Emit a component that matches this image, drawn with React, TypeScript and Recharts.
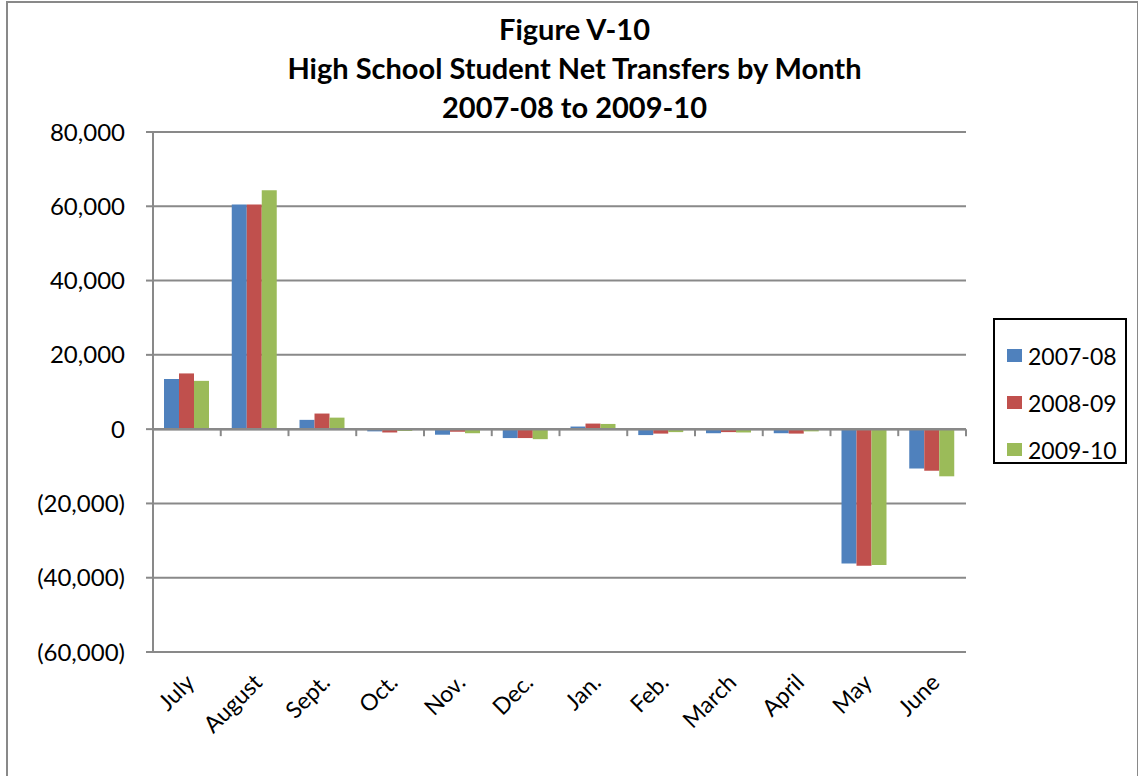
import {
  BarChart,
  Bar,
  XAxis,
  YAxis,
  CartesianGrid,
  Legend,
  ReferenceLine,
} from 'recharts'

const months = ['July', 'August', 'Sept.', 'Oct.', 'Nov.', 'Dec.', 'Jan.', 'Feb.', 'March', 'April', 'May', 'June']
const y2007 = [13500, 60500, 2500, -600, -1500, -2400, 700, -1600, -1100, -1100, -36200, -10600]
const y2008 = [15000, 60500, 4200, -900, -700, -2400, 1500, -1200, -800, -1200, -36800, -11200]
const y2009 = [13000, 64300, 3100, -500, -1100, -2700, 1400, -800, -900, -600, -36600, -12700]
const yTicks = [-60000, -40000, -20000, 0, 20000, 40000, 60000, 80000]

const SERIES = [
  { key: 'a', name: '2007-08', color: '#4F81BD' },
  { key: 'b', name: '2008-09', color: '#C0504D' },
  { key: 'c', name: '2009-10', color: '#9BBB59' },
]

const data = months.map((m, i) => ({ month: m, a: y2007[i], b: y2008[i], c: y2009[i] }))

const GRID = '#898989'

const fmt = (v: number) => {
  if (v === 0) return '0'
  const s = Math.abs(v).toLocaleString('en-US')
  return v < 0 ? `(${s})` : s
}

const MonthTick = (props: any) => {
  const { x, y, payload } = props
  return (
    <g transform={`translate(${x + 9},${y + 30})`}>
      <text x={0} y={0} textAnchor="end" transform="rotate(-45)" fontSize={23} fill="#000">
        {payload.value}
      </text>
    </g>
  )
}

// zero axis with category separators
const ZeroAxis = (props: any) => {
  const { x1, y1, x2 } = props
  const step = (x2 - x1) / months.length
  return (
    <g>
      <line x1={x1} y1={y1} x2={x2} y2={y1} stroke={GRID} strokeWidth={2.5} />
      {months.map((_, i) => (
        <line key={i} x1={x1 + step * (i + 1)} y1={y1} x2={x1 + step * (i + 1)} y2={y1 + 7} stroke={GRID} strokeWidth={2} />
      ))}
    </g>
  )
}

const LegendBox = () => (
  <div style={{ width: 134, height: 146, border: '2px solid #000', boxSizing: 'border-box', paddingTop: 12 }}>
    {SERIES.map((s) => (
      <div key={s.key} style={{ display: 'flex', alignItems: 'center', height: 47, paddingLeft: 12 }}>
        <span style={{ width: 15, height: 13, background: s.color, display: 'inline-block', marginRight: 6 }} />
        <span style={{ fontSize: 23, color: '#000' }}>{s.name}</span>
      </div>
    ))}
  </div>
)

export default function App() {
  return (
    <div
      style={{
        position: 'absolute',
        left: 6,
        top: 1,
        width: 1129,
        height: 773,
        border: `2px solid ${GRID}`,
        background: '#fff',
        fontFamily: 'Lato, "Open Sans", sans-serif',
      }}
    >
      <div
        style={{
          position: 'absolute',
          left: 4,
          top: 6,
          width: 1125,
          textAlign: 'center',
          fontWeight: 700,
          fontSize: 29,
          lineHeight: '39px',
          color: '#000',
        }}
      >
        <div>Figure V-10</div>
        <div>High School Student Net Transfers by Month</div>
        <div>2007-08 to 2009-10</div>
      </div>
      <BarChart
        width={1125}
        height={769}
        data={data}
        margin={{ top: 129, right: 33, bottom: 20, left: 0 }}
        barGap={0}
        barSize={15}
      >
        <CartesianGrid vertical={false} stroke={GRID} strokeWidth={2} />
        <XAxis
          dataKey="month"
          axisLine={false}
          tickLine={false}
          tickSize={0}
          height={100}
          interval={0}
          tick={<MonthTick />}
        />
        <YAxis
          type="number"
          domain={[-60000, 80000]}
          ticks={yTicks}
          tickFormatter={fmt}
          width={145}
          axisLine={{ stroke: GRID, strokeWidth: 2 }}
          tickLine={{ stroke: GRID, strokeWidth: 2 }}
          tickSize={7}
          tickMargin={21}
          tick={{ fill: '#000', fontSize: 24 }}
        />
        {SERIES.map((s) => (
          <Bar key={s.key} dataKey={s.key} name={s.name} fill={s.color} isAnimationActive={false} />
        ))}
        <ReferenceLine y={0} shape={<ZeroAxis />} />
        <Legend
          layout="vertical"
          align="right"
          verticalAlign="middle"
          content={<LegendBox />}
          wrapperStyle={{ left: 985, top: 315, width: 134, height: 146 }}
        />
      </BarChart>
    </div>
  )
}
